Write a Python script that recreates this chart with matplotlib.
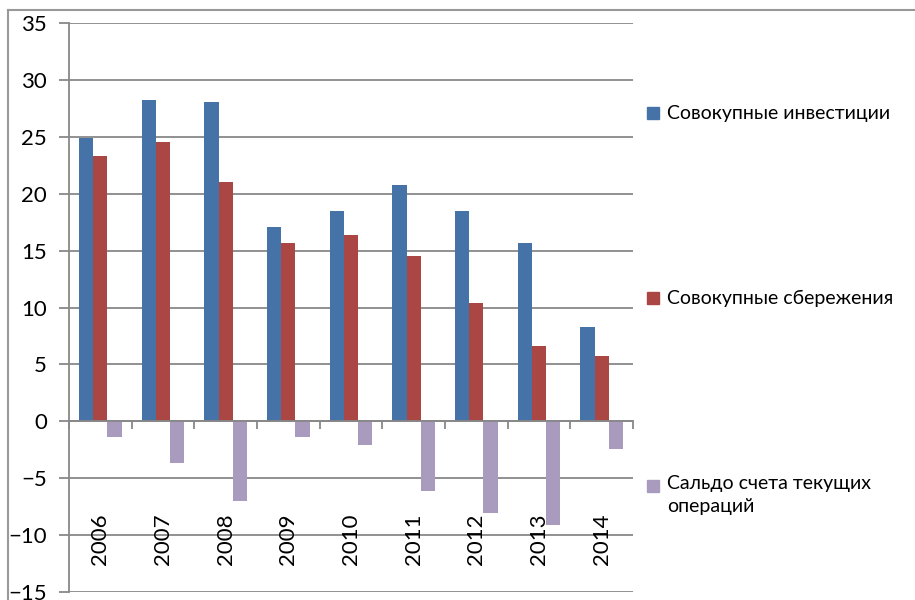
import numpy as np
import matplotlib
matplotlib.use('Agg')
import matplotlib.pyplot as plt
from matplotlib.patches import Rectangle
from matplotlib.lines import Line2D

plt.rcParams['font.family'] = ['Lato', 'DejaVu Sans']

# Data
#--------------------------------------------------------------------
years = ['2006', '2007', '2008', '2009', '2010', '2011', '2012', '2013', '2014']
investments = [24.9, 28.2, 28.1, 17.1, 18.5, 20.8, 18.5, 15.7, 8.3]
savings = [23.3, 24.5, 21.0, 15.7, 16.4, 14.5, 10.4, 6.6, 5.7]
current_account = [-1.35, -3.7, -7.0, -1.35, -2.1, -6.1, -8.1, -9.1, -2.45]

labels = ['Совокупные инвестиции', 'Совокупные сбережения', 'Сальдо счета текущих\nопераций']
colors = ['#4572A7', '#AA4643', '#A99BBD']
grid_c = '#888888'

# Figure
#--------------------------------------------------------------------
fig = plt.figure(figsize=(9.15, 6.0), dpi=100)
W, H = 915, 600
ax = fig.add_axes([69 / W, 1 - 592 / H, 564 / W, 569 / H])

x = np.arange(len(years))
w = 0.228
ax.bar(x - w, investments, w, color=colors[0], zorder=3)
ax.bar(x, savings, w, color=colors[1], zorder=3)
ax.bar(x + w, current_account, w, color=colors[2], zorder=3)

ax.set_xlim(-0.5, len(years) - 0.5)
ax.set_ylim(-15, 35)
ax.set_yticks(np.arange(-15, 36, 5))
ax.yaxis.grid(True, color=grid_c, lw=1.3, zorder=0)
ax.tick_params(axis='y', length=7, width=1.3, color=grid_c, labelsize=16, pad=9)

for s in ['top', 'right']:
    ax.spines[s].set_visible(False)
ax.spines['left'].set_color(grid_c)
ax.spines['left'].set_linewidth(1.3)
ax.spines['bottom'].set_position(('data', 0))
ax.spines['bottom'].set_color(grid_c)
ax.spines['bottom'].set_linewidth(1.3)
ax.spines['bottom'].set_zorder(4)

ax.set_xticks(np.arange(-0.5, len(years), 1.0))
ax.set_xticklabels([])
ax.tick_params(axis='x', length=6, width=1.3, color=grid_c, direction='out')

for i, yr in enumerate(years):
    ax.text(i, -8.1, yr, rotation=90, ha='center', va='top', fontsize=16)

# Legend
#--------------------------------------------------------------------
leg_y = [113, 298.5, 486]
for lab, col, yy in zip(labels, colors, leg_y):
    fig.patches.append(Rectangle((647 / W, 1 - (yy + 6) / H), 12 / W, 12 / H,
                                 transform=fig.transFigure, color=col, figure=fig))
    if '\n' in lab:
        fig.text(667 / W, 1 - (yy - 11) / H, lab, fontsize=14, va='top', linespacing=1.4)
    else:
        fig.text(667 / W, 1 - yy / H, lab, fontsize=14, va='center')

# outer border
fig.lines.append(Line2D([8 / W, 8 / W], [0, 1 - 10 / H], transform=fig.transFigure,
                        color='#999999', lw=1.5))
fig.lines.append(Line2D([8 / W, 1], [1 - 10 / H, 1 - 10 / H], transform=fig.transFigure,
                        color='#999999', lw=1.5))

fig.savefig('out.png', dpi=100)
